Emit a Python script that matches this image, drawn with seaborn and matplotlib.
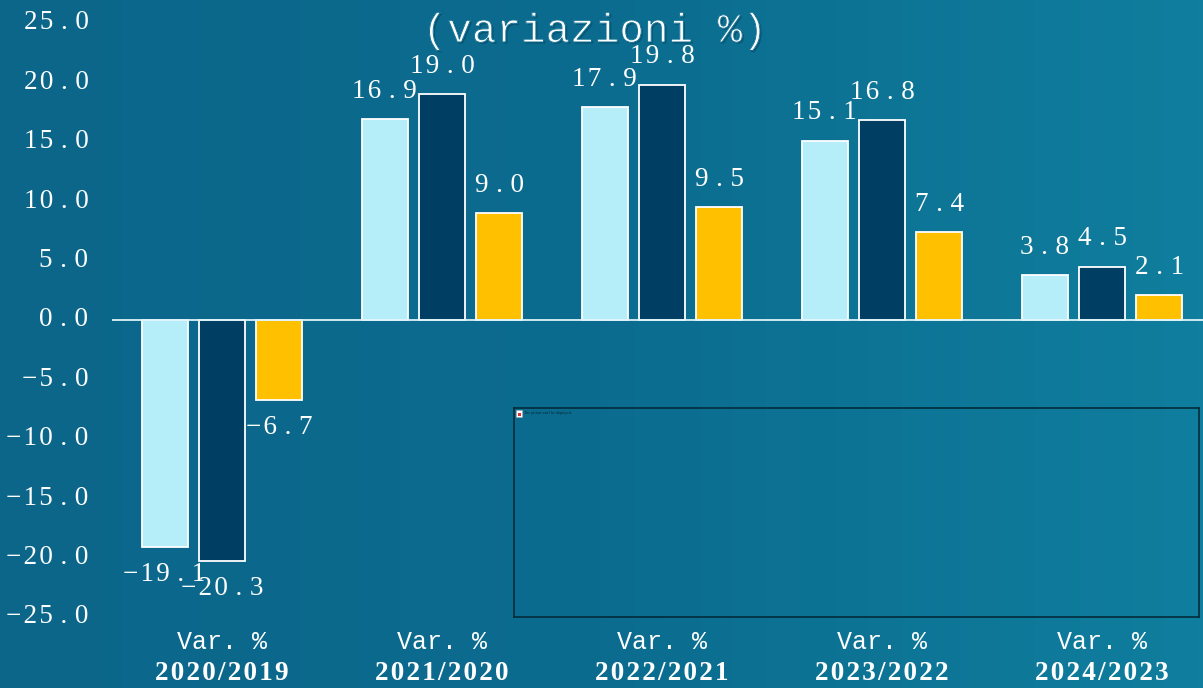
import matplotlib
matplotlib.use("Agg")
import matplotlib.pyplot as plt
import matplotlib.patheffects as pe
from matplotlib.colors import LinearSegmentedColormap
from matplotlib.patches import Rectangle
from matplotlib.transforms import ScaledTranslation
import numpy as np
import pandas as pd
import seaborn as sns

periods = ["2020/2019", "2021/2020", "2022/2021", "2023/2022", "2024/2023"]
series_a = [-19.1, 16.9, 17.9, 15.1, 3.8]
series_b = [-20.3, 19.0, 19.8, 16.8, 4.5]
series_c = [-6.7, 9.0, 9.5, 7.4, 2.1]
series_names = ["A", "B", "C"]
bar_colors = ["#B5EEF8", "#003F63", "#FFC000"]
y_ticks = [-25, -20, -15, -10, -5, 0, 5, 10, 15, 20, 25]

W, H = 1203, 688
SERIF = "Liberation Serif"
MONO = "Liberation Mono"
BG_MID = "#0B6C8F"


def tracked(s, sep="\u200a"):
    # matplotlib has no letter spacing, so put hair spaces between the characters
    return sep.join(s)


def num_label(v):
    # digits sit close together, the dot gets a wide cell as in the reference
    s = tracked(f"{v:.1f}".replace("-", "\u2212"))
    return s.replace("\u200a.\u200a", "\u2009\u200a.\u2009\u200a")


df = pd.DataFrame({
    "period": periods * 3,
    "series": np.repeat(series_names, len(periods)),
    "value": series_a + series_b + series_c,
})

sns.set_theme(style="white")
fig = plt.figure(figsize=(W / 100, H / 100), dpi=100)

# background gradient, darker on the left
bg = fig.add_axes([0, 0, 1, 1], zorder=-1)
bg.imshow(np.linspace(0, 1, 256).reshape(1, -1), aspect="auto", extent=[0, 1, 0, 1],
          cmap=LinearSegmentedColormap.from_list("bg", ["#0B668A", BG_MID, "#107E9E"]))
bg.axis("off")

ax = fig.add_axes([112 / W, (H - 617) / H, 1100 / W, 594 / H])
ax.patch.set_visible(False)
sns.barplot(data=df, x="period", y="value", hue="series", hue_order=series_names,
            order=periods, palette=bar_colors, width=0.784, gap=0.2, saturation=1,
            edgecolor="white", linewidth=1.3, legend=False, ax=ax, zorder=3)

ax.set_xlim(-0.5, 4.5)
ax.set_ylim(-25, 25)
ax.set_xlabel("")
ax.set_ylabel("")
sns.despine(ax=ax, left=True, bottom=True)
ax.axhline(0, color="#DDF3F8", lw=1.3, zorder=4)

ax.set_yticks(y_ticks)
ax.set_yticklabels([num_label(t) for t in y_ticks], family=SERIF, fontsize=19.5, color="white")
ax.tick_params(axis="y", length=0, pad=17)
up = ScaledTranslation(0, 2.2 / 72, fig.dpi_scale_trans)
for lab in ax.get_yticklabels():
    lab.set_transform(lab.get_transform() + up)

ax.set_xticks(range(len(periods)))
ax.set_xticklabels([tracked(p) for p in periods], family=SERIF, fontsize=19.5,
                   fontweight="bold", color="white")
ax.tick_params(axis="x", length=0, pad=32)
for i in range(len(periods)):
    ax.annotate("Var. %", xy=(i, 0), xycoords=ax.get_xaxis_transform(), xytext=(0, -25),
                textcoords="offset pixels", family=MONO, fontsize=18, color="white",
                ha="center", va="center", annotation_clip=False)

for container, vals in zip(ax.containers, [series_a, series_b, series_c]):
    ax.bar_label(container, labels=[num_label(v) for v in vals], padding=11,
                 family=SERIF, fontsize=19.5, color="white", zorder=5)

# thin the mono glyphs with a background stroke, the reference face is lighter
fig.text(595 / W, 1 - 31 / H, "(variazioni %)", family=MONO, fontsize=29.5, color="white",
         ha="center", va="center",
         path_effects=[pe.withSimplePatchShadow(offset=(1.2, -1.2), shadow_rgbFace="#03405A", alpha=0.5),
                       pe.Normal(), pe.Stroke(linewidth=0.7, foreground=BG_MID)])

# empty picture frame over the chart, with its broken image mark
frame = fig.add_axes([514 / W, (H - 617) / H, 685 / W, 209 / H], zorder=5)
frame.patch.set_visible(False)
frame.set_xticks([])
frame.set_yticks([])
frame.set_xlim(0, 685)
frame.set_ylim(209, 0)
for s in frame.spines.values():
    s.set_color("#032C3A")
    s.set_linewidth(1.2)
frame.add_patch(Rectangle((2, 2), 6, 7, fc="white", ec="#9AA9B0", lw=0.4))
frame.add_patch(Rectangle((3.5, 4.5), 3, 3, fc="#E03030", ec="none"))
frame.text(10, 5, "The picture can't be displayed.", family=SERIF, fontsize=2.9,
           color="#032C3A", va="center", ha="left")

fig.savefig("out.png", dpi=100)
